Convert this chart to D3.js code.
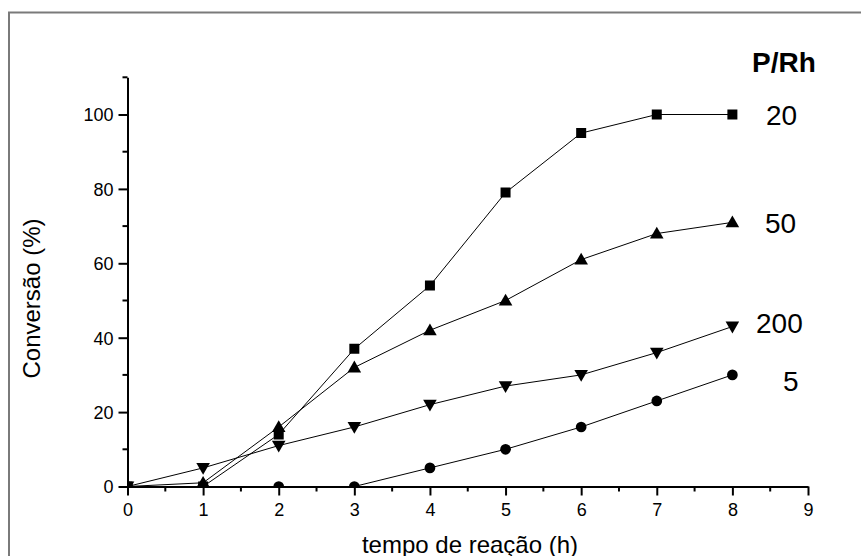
<!DOCTYPE html>
<html>
<head>
<meta charset="utf-8">
<script src="https://cdn.jsdelivr.net/npm/d3@7"></script>
<style>
  html, body { margin: 0; padding: 0; background: #fff; }
  svg { display: block; font-family: Arial, "Liberation Sans", Helvetica, sans-serif; }
</style>
</head>
<body>
<svg id="chart" width="861" height="556"></svg>
<script>
// Reaction time (h)
const hours = [0, 1, 2, 3, 4, 5, 6, 7, 8];

// Conversion (%) for each P/Rh ratio
const conv20  = [0, 0, 14, 37, 54, 79, 95, 100, 100];
const conv50  = [0, 1, 16, 32, 42, 50, 61, 68, 71];
const conv200 = [0, 5, 11, 16, 22, 27, 30, 36, 43];
const conv5   = [0, 0, 0, 0, 5, 10, 16, 23, 30];

const seriesNames = ["20", "50", "200", "5"];
const seriesValues = [conv20, conv50, conv200, conv5];
const seriesSymbols = ["square", "triangleUp", "triangleDown", "circle"];

const xTickValues = [0, 1, 2, 3, 4, 5, 6, 7, 8, 9];
const yTickValues = [0, 20, 40, 60, 80, 100];

const svg = d3.select("#chart");

// Outer frame
svg.append("rect")
  .attr("x", 9).attr("y", 12.5)
  .attr("width", 900).attr("height", 600)
  .attr("fill", "none")
  .attr("stroke", "#7a7a7a")
  .attr("stroke-width", 2);

const x = d3.scaleLinear().domain([0, 9]).range([127.5, 808]);
const y = d3.scaleLinear().domain([0, 110]).range([486.5, 77.3]);

// Clip region for the plot area
svg.append("clipPath").attr("id", "plotClip")
  .append("rect")
  .attr("x", x(0)).attr("y", y(110))
  .attr("width", x(9) - x(0)).attr("height", y(0) - y(110));

const plot = svg.append("g").attr("clip-path", "url(#plotClip)");

const line = d3.line()
  .x((d, i) => x(hours[i]))
  .y(d => y(d));

seriesValues.forEach(vals => {
  plot.append("path")
    .datum(vals)
    .attr("fill", "none")
    .attr("stroke", "#000")
    .attr("stroke-width", 1)
    .attr("d", line);
});

const symbolPath = {
  square: d3.symbol().type(d3.symbolSquare).size(100)(),
  triangleUp: d3.symbol().type(d3.symbolTriangle).size(80)(),
  triangleDown: d3.symbol().type(d3.symbolTriangle).size(80)(),
  circle: d3.symbol().type(d3.symbolCircle).size(90)()
};

seriesValues.forEach((vals, si) => {
  const kind = seriesSymbols[si];
  plot.selectAll(null)
    .data(vals)
    .enter()
    .append("path")
    .attr("fill", "#000")
    .attr("d", symbolPath[kind])
    .attr("transform", (d, i) => {
      const cx = x(hours[i]);
      const cy = y(d);
      if (kind === "triangleUp") return `translate(${cx},${cy + 1})`;
      if (kind === "triangleDown") return `translate(${cx},${cy - 1}) rotate(180)`;
      return `translate(${cx},${cy})`;
    });
});

// Axes
const xAxis = d3.axisBottom(x)
  .tickValues(xTickValues)
  .tickFormat(d3.format("d"))
  .tickSizeInner(9)
  .tickSizeOuter(0)
  .tickPadding(8);

const yAxis = d3.axisLeft(y)
  .tickValues(yTickValues)
  .tickFormat(d3.format("d"))
  .tickSizeInner(9)
  .tickSizeOuter(0)
  .tickPadding(5);

const gx = svg.append("g").attr("transform", `translate(0,${y(0)})`).call(xAxis);
const gy = svg.append("g").attr("transform", `translate(${x(0)},0)`).call(yAxis);

// Minor ticks
const xMinor = d3.range(0.5, 9, 1);
gx.selectAll(".minor").data(xMinor).enter()
  .append("line").attr("class", "minor")
  .attr("x1", d => x(d)).attr("x2", d => x(d))
  .attr("y1", 0).attr("y2", 5)
  .attr("stroke", "#000").attr("stroke-width", 2);

const yMinor = d3.range(10, 111, 20);
gy.selectAll(".minor").data(yMinor).enter()
  .append("line").attr("class", "minor")
  .attr("y1", d => y(d)).attr("y2", d => y(d))
  .attr("x1", 0).attr("x2", -5)
  .attr("stroke", "#000").attr("stroke-width", 2);

[gx, gy].forEach(g => {
  g.select(".domain").attr("stroke", "#000").attr("stroke-width", 2);
  g.selectAll(".tick line").attr("stroke", "#000").attr("stroke-width", 2);
  g.selectAll(".tick text")
    .attr("fill", "#000")
    .style("font-family", "Arial, 'Liberation Sans', sans-serif")
    .style("font-size", "18px");
});
gy.selectAll(".tick text").attr("dy", "0.36em");

// Axis titles
svg.append("text")
  .attr("x", 470).attr("y", 553)
  .attr("text-anchor", "middle")
  .style("font-size", "24px")
  .text("tempo de reação (h)");

svg.append("text")
  .attr("transform", "translate(40,298.5) rotate(-90)")
  .attr("text-anchor", "middle")
  .style("font-size", "24px")
  .text("Conversão (%)");

// Series labels
svg.append("text")
  .attr("x", 752).attr("y", 72)
  .style("font-size", "28px")
  .style("font-weight", "bold")
  .text("P/Rh");

const labelPos = [[766, 125], [765, 233], [756, 333], [783, 391]];
seriesNames.forEach((name, i) => {
  svg.append("text")
    .attr("x", labelPos[i][0]).attr("y", labelPos[i][1])
    .style("font-size", "28px")
    .text(name);
});
</script>
</body>
</html>
